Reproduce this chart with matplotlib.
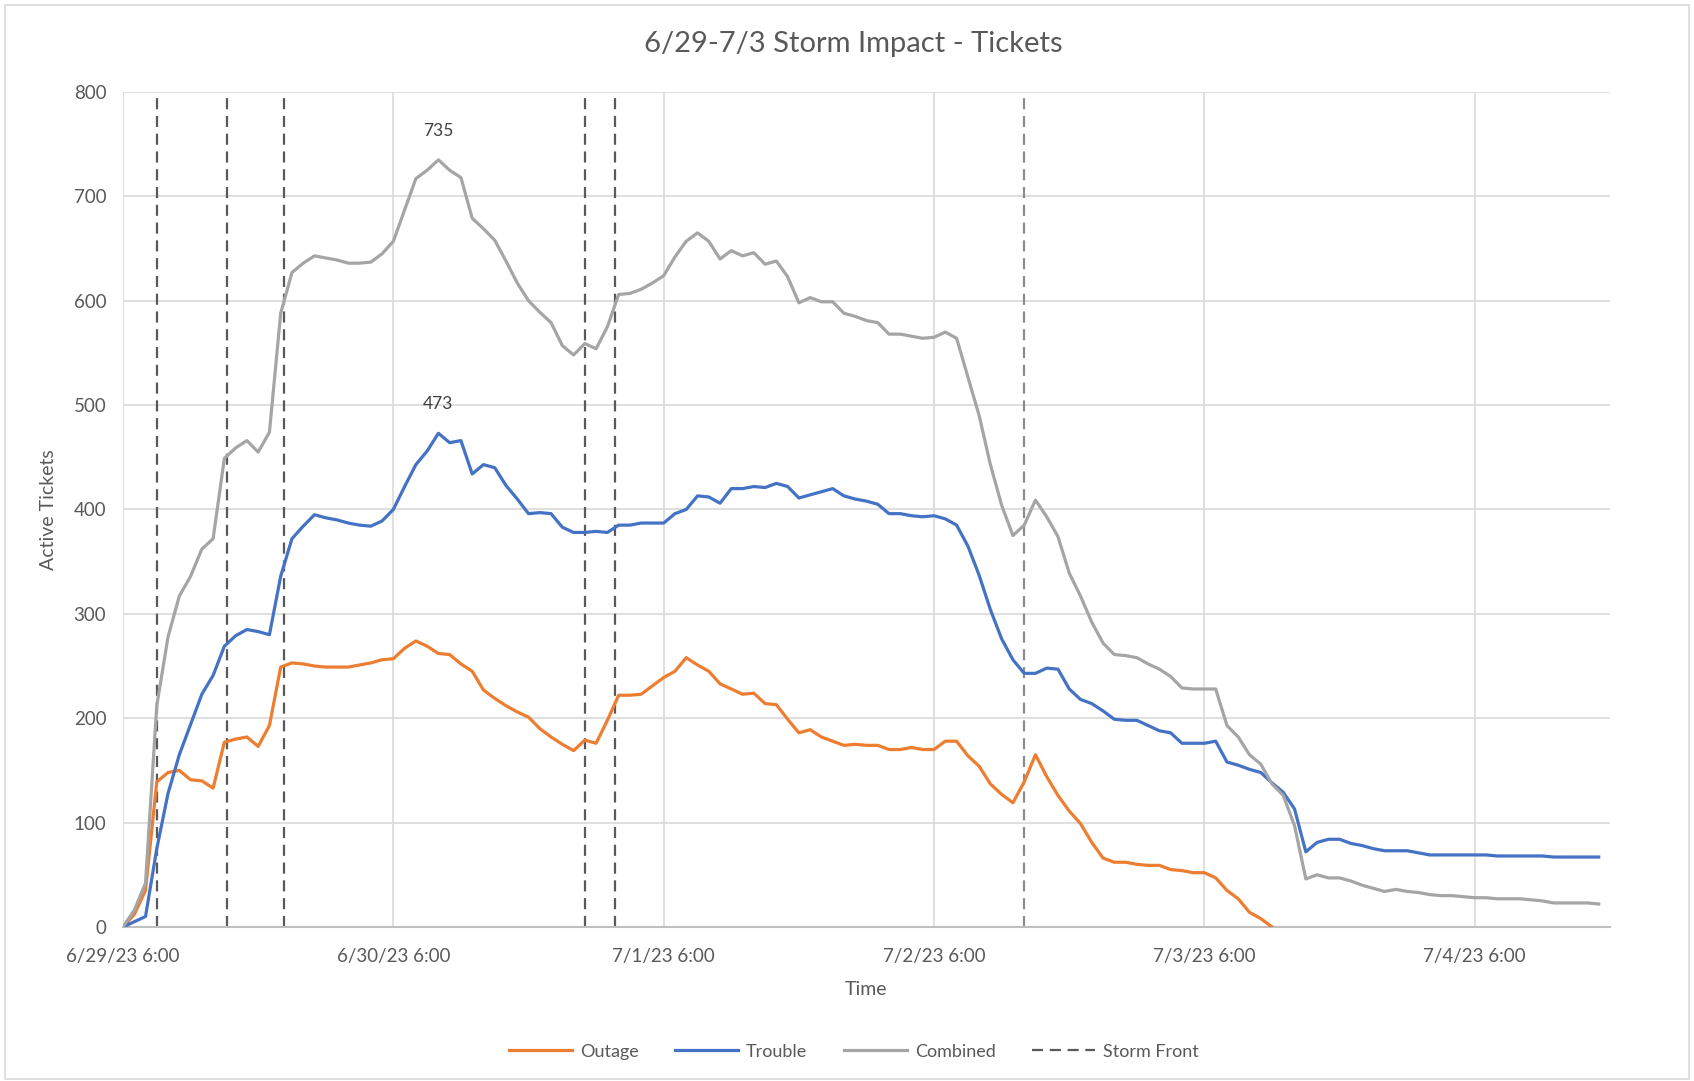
import matplotlib
matplotlib.use('Agg')
import matplotlib.pyplot as plt
from matplotlib.lines import Line2D
from matplotlib.patches import Rectangle
import numpy as np

# hourly counts starting 6/29/23 6:00
outage = [0, 12, 35, 139, 148, 150, 141, 140, 133, 177, 180, 182, 173, 193, 249, 253, 252, 250, 249, 249,
          249, 251, 253, 256, 257, 267, 274, 269, 262, 261, 252, 245, 227, 219, 212, 206, 201, 190, 182, 175,
          169, 179, 176, 198, 222, 222, 223, 231, 239, 245, 258, 251, 245, 233, 228, 223, 224, 214, 213, 199,
          186, 189, 182, 178, 174, 175, 174, 174, 170, 170, 172, 170, 170, 178, 178, 164, 154, 137, 127, 119,
          139, 165, 144, 126, 111, 99, 81, 66, 62, 62, 60, 59, 59, 55, 54, 52, 52, 47, 35, 27,
          14, 8, 0]
trouble = [0, 5, 10, 75, 128, 165, 194, 223, 241, 269, 279, 285, 283, 280, 336, 372, 384, 395, 392, 390,
           387, 385, 384, 389, 400, 422, 443, 456, 473, 464, 466, 434, 443, 440, 423, 410, 396, 397, 396, 383,
           378, 378, 379, 378, 385, 385, 387, 387, 387, 396, 400, 413, 412, 406, 420, 420, 422, 421, 425, 422,
           411, 414, 417, 420, 413, 410, 408, 405, 396, 396, 394, 393, 394, 391, 385, 365, 337, 304, 276, 256,
           243, 243, 248, 247, 228, 218, 214, 207, 199, 198, 198, 193, 188, 186, 176, 176, 176, 178, 158, 155,
           151, 148, 138, 129, 113, 72, 81, 84, 84, 80, 78, 75, 73, 73, 73, 71, 69, 69, 69, 69,
           69, 69, 68, 68, 68, 68, 68, 67, 67, 67, 67, 67]
combined = [0, 16, 42, 212, 278, 317, 336, 362, 372, 449, 459, 466, 455, 474, 588, 627, 636, 643, 641, 639,
            636, 636, 637, 645, 657, 687, 717, 725, 735, 725, 718, 679, 669, 658, 638, 617, 600, 589, 579, 557,
            548, 559, 554, 575, 606, 607, 611, 617, 624, 642, 657, 665, 657, 640, 648, 643, 646, 635, 638, 623,
            598, 603, 599, 599, 588, 585, 581, 579, 568, 568, 566, 564, 565, 570, 564, 527, 490, 443, 404, 375,
            385, 409, 393, 374, 339, 317, 292, 272, 261, 260, 258, 252, 247, 240, 229, 228, 228, 228, 193, 182,
            165, 156, 137, 126, 97, 46, 50, 47, 47, 44, 40, 37, 34, 36, 34, 33, 31, 30, 30, 29,
            28, 28, 27, 27, 27, 26, 25, 23, 23, 23, 23, 22]

storm_hours = [3.0, 9.2, 14.25, 41.0, 43.7, 80.0]
tick_hours = [0, 24, 48, 72, 96, 120]
tick_labels = ['6/29/23 6:00', '6/30/23 6:00', '7/1/23 6:00', '7/2/23 6:00', '7/3/23 6:00', '7/4/23 6:00']

plt.rcParams['font.family'] = ['Lato', 'DejaVu Sans']
txt = '#595959'

fig = plt.figure(figsize=(16.94, 10.81), dpi=100)
ax = fig.add_axes([0.0726, 0.1425, 0.8778, 0.7724])

ax.plot(np.arange(len(outage)), outage, color='#ED7D31', lw=2.3, solid_joinstyle='round', zorder=3)
ax.plot(np.arange(len(trouble)), trouble, color='#4472C4', lw=2.3, solid_joinstyle='round', zorder=3)
ax.plot(np.arange(len(combined)), combined, color='#A5A5A5', lw=2.3, solid_joinstyle='round', zorder=3)

for i, h in enumerate(storm_hours):
    c = '#595959' if i < 5 else '#8c8c8c'
    ax.vlines(h, 0, 800, colors=c, linestyles=(0, (5, 3)), lw=1.6, zorder=2)

# peak labels
ax.annotate('735', xy=(28, 735), xytext=(0, 21), textcoords='offset points',
            ha='center', va='center', fontsize=12.5, color='#404040')
ax.annotate('473', xy=(28, 473), xytext=(0, 21), textcoords='offset points',
            ha='center', va='center', fontsize=12.5, color='#404040')

ax.set_xlim(0, 132)
ax.set_ylim(0, 800)
ax.set_yticks(range(0, 801, 100))
ax.set_xticks(tick_hours)
ax.set_xticklabels(tick_labels)
ax.grid(True, color='#d9d9d9', lw=1.2)
ax.set_axisbelow(True)
for s in ['top', 'right', 'left']:
    ax.spines[s].set_visible(False)
ax.spines['bottom'].set_color('#bfbfbf')
ax.spines['bottom'].set_linewidth(1.5)
ax.tick_params(axis='both', length=0, labelsize=13.5, colors=txt)
ax.tick_params(axis='x', pad=15)
ax.tick_params(axis='y', pad=12)

ax.set_xlabel('Time', fontsize=14, color=txt, labelpad=12)
ax.set_ylabel('Active Tickets', fontsize=14, color=txt, labelpad=12)
fig.suptitle('6/29-7/3 Storm Impact - Tickets', x=0.504, y=0.959, va='center', fontsize=21, color=txt)

handles = [Line2D([], [], color='#ED7D31', lw=2.3),
           Line2D([], [], color='#4472C4', lw=2.3),
           Line2D([], [], color='#A5A5A5', lw=2.3),
           Line2D([], [], color='#595959', lw=1.6, ls=(0, (5, 3)))]
fig.legend(handles, ['Outage', 'Trouble', 'Combined', 'Storm Front'], loc='center',
           bbox_to_anchor=(0.504, 0.027), ncol=4, frameon=False, fontsize=13,
           handlelength=3.5, handletextpad=0.45, columnspacing=2.0, labelcolor=txt)

fig.patches.append(Rectangle((0.003, 0.002), 0.994, 0.993, transform=fig.transFigure,
                             fill=False, edgecolor='#d9d9d9', lw=1.2))

plt.savefig('out.png')
